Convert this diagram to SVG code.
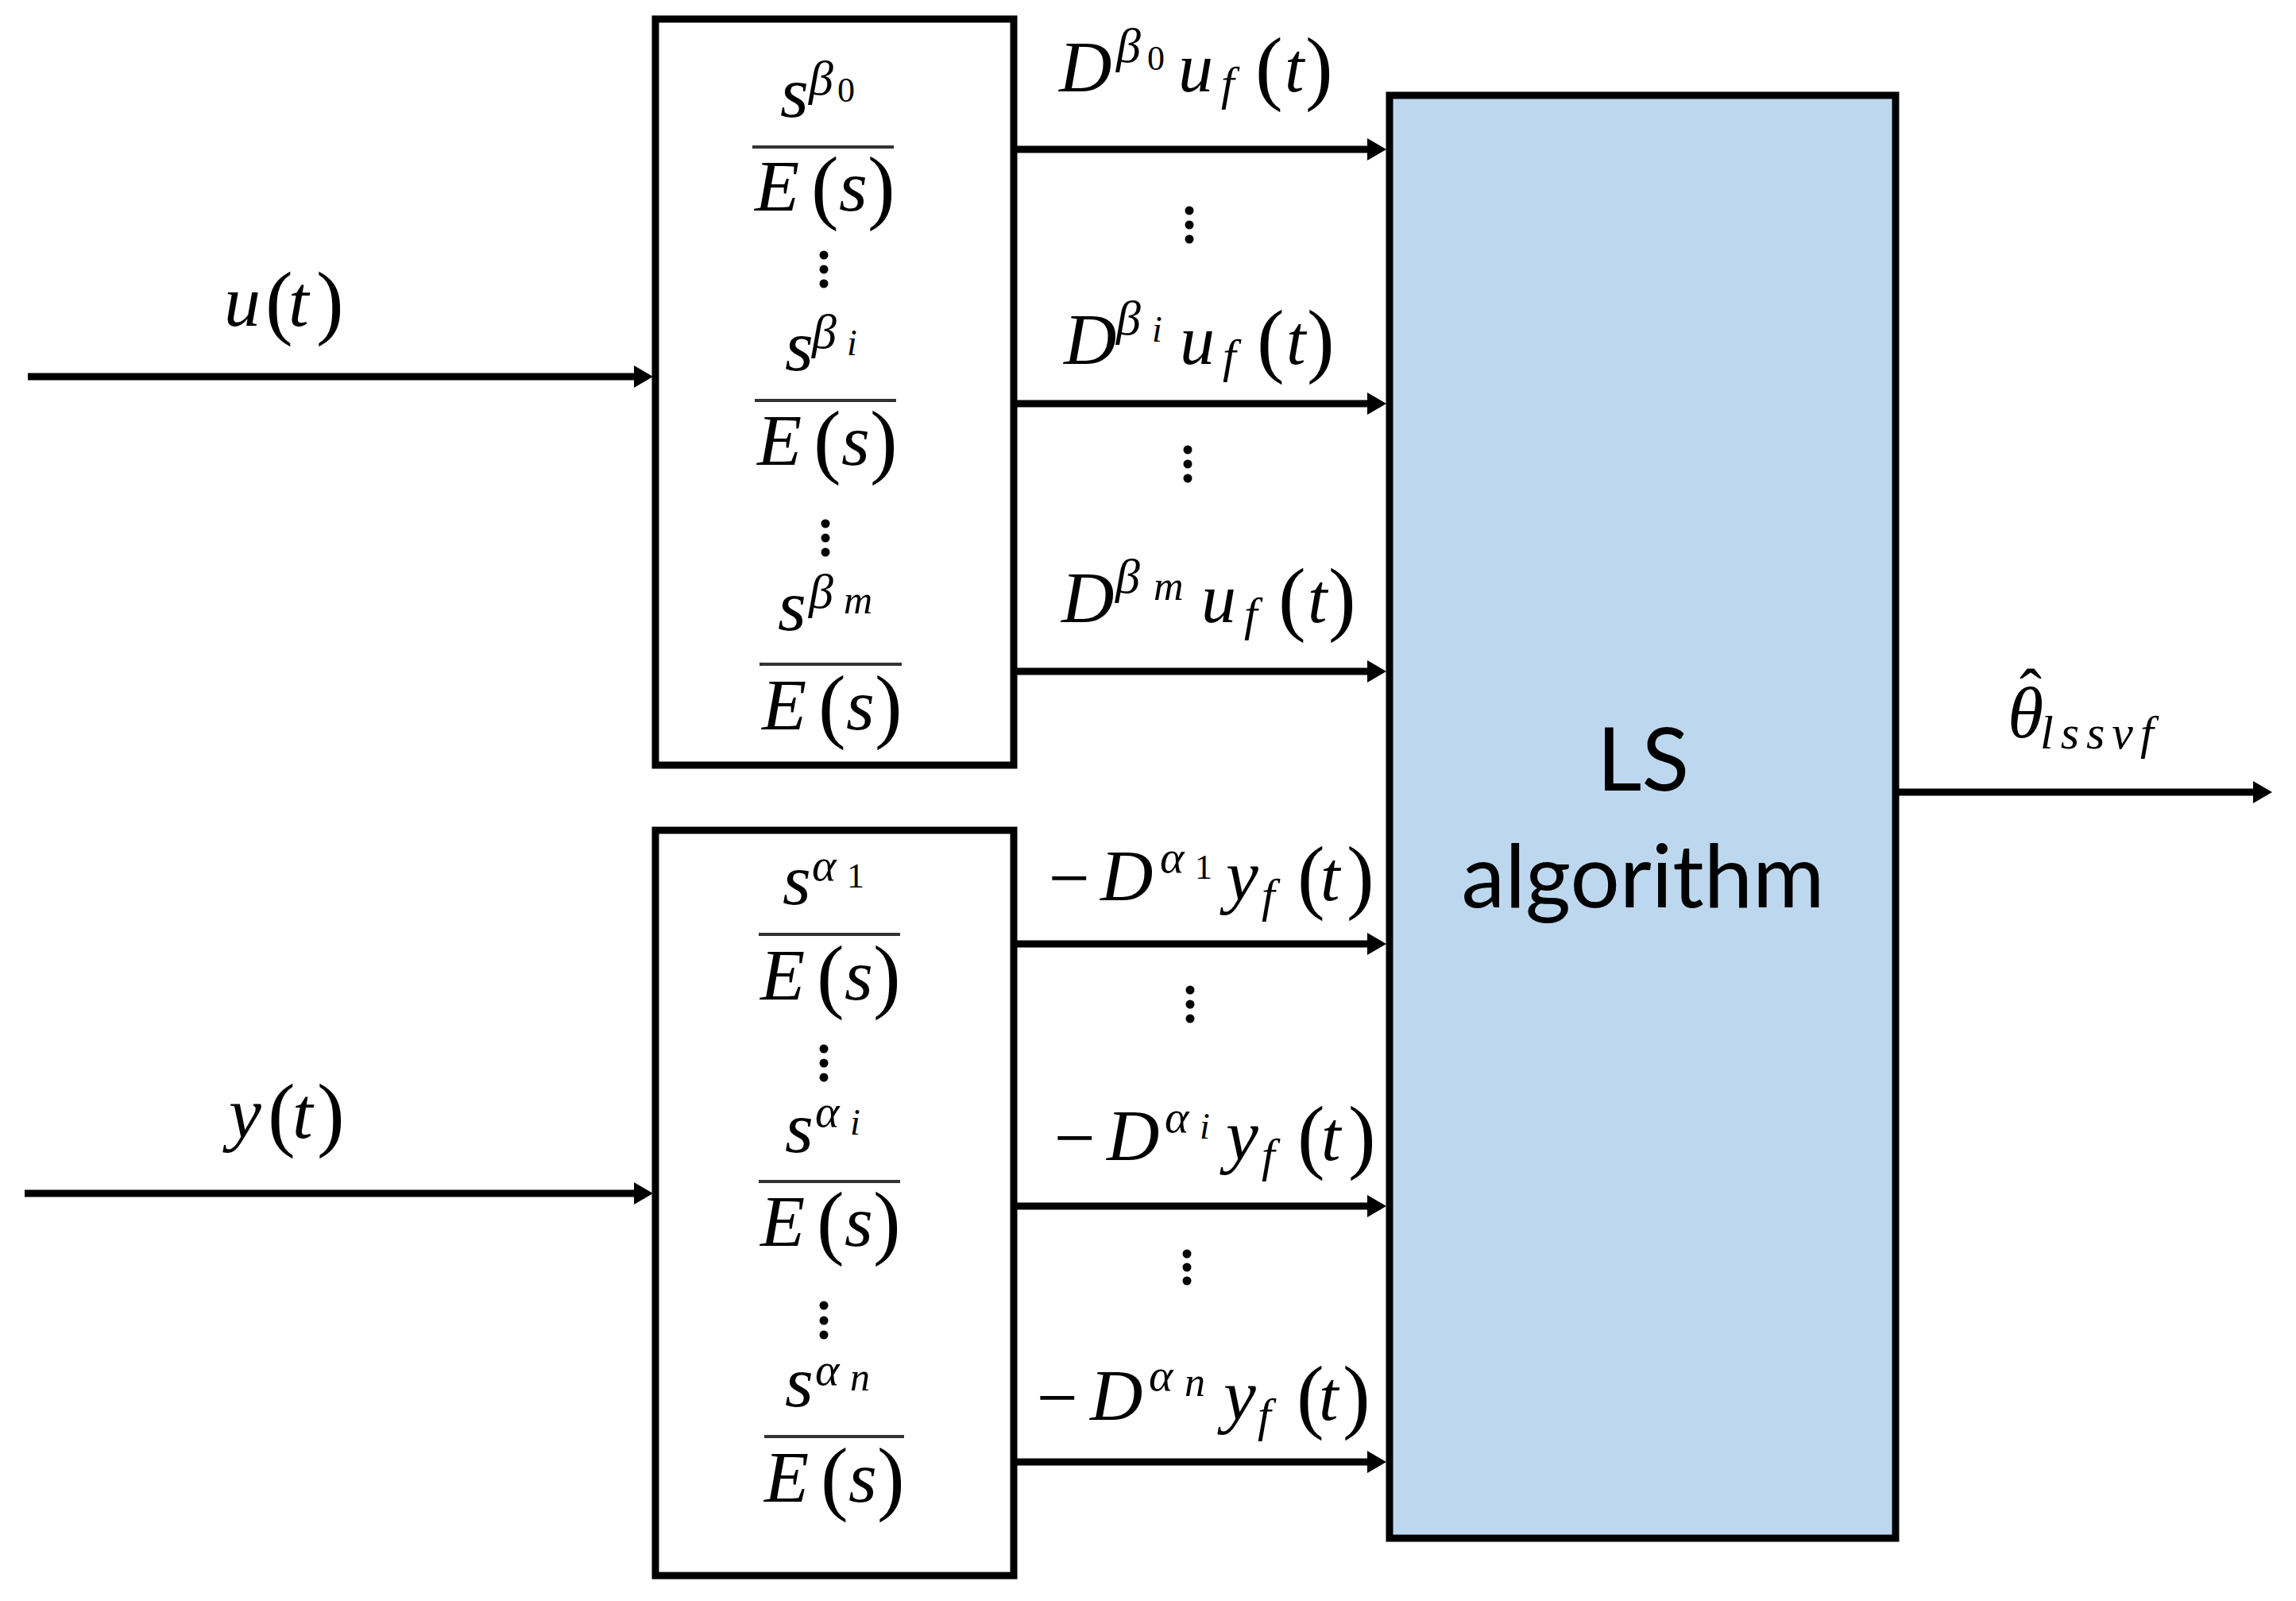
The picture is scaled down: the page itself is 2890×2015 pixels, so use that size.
<svg xmlns="http://www.w3.org/2000/svg" width="2890" height="2015" viewBox="0 0 2890 2015">
<style>
.m{font-family:"Liberation Serif","Times New Roman",serif;font-style:italic;fill:#000}
.up{font-style:normal}
.box{fill:#fff;stroke:#000;stroke-width:9}
.ls{fill:#BDD7EE;stroke:#000;stroke-width:9}
.bar{stroke:#333;stroke-width:4}
.cn{stroke:#000;stroke-width:9;fill:none;marker-end:url(#ah)}
.dot{fill:#000}
.lt{font-family:Lato,"Open Sans","Noto Sans",sans-serif;font-size:110px;fill:#000;text-anchor:middle}
</style>
<defs>
<marker id="ah" markerUnits="userSpaceOnUse" viewBox="0 0 24 28" markerWidth="24" markerHeight="28" refX="12" refY="14" orient="auto">
<path d="M0,0 L24,14 L0,28 z" fill="#000"/>
</marker>
</defs>
<rect width="2890" height="2015" fill="#fff"/>

<g id="filter-u">
<rect class="box" x="825" y="24" width="451" height="939"/>
<text class="m"><tspan x="982" y="147" font-size="92">s</tspan><tspan x="1018" y="119" font-size="62">β</tspan><tspan class="up" x="1054" y="128" font-size="44">0</tspan></text>
<line class="bar" x1="947" y1="185" x2="1125" y2="185"/>
<text class="m"><tspan x="950" y="265" font-size="92">E</tspan><tspan class="up" x="1021" y="269" font-size="104">(</tspan><tspan x="1056" y="265" font-size="92">s</tspan><tspan class="up" x="1092" y="269" font-size="104">)</tspan></text>
<circle class="dot" cx="1037" cy="321" r="5.5"/><circle class="dot" cx="1037" cy="339" r="5.5"/><circle class="dot" cx="1037" cy="357" r="5.5"/>
<text class="m"><tspan x="988" y="466" font-size="92">s</tspan><tspan x="1022" y="438" font-size="62">β</tspan><tspan x="1066" y="447" font-size="46">i</tspan></text>
<line class="bar" x1="950" y1="504" x2="1128" y2="504"/>
<text class="m"><tspan x="953" y="585" font-size="92">E</tspan><tspan class="up" x="1024" y="589" font-size="104">(</tspan><tspan x="1059" y="585" font-size="92">s</tspan><tspan class="up" x="1095" y="589" font-size="104">)</tspan></text>
<circle class="dot" cx="1039" cy="659" r="5.5"/><circle class="dot" cx="1039" cy="677" r="5.5"/><circle class="dot" cx="1039" cy="695" r="5.5"/>
<text class="m"><tspan x="979" y="793" font-size="92">s</tspan><tspan x="1018" y="765" font-size="62">β</tspan><tspan x="1062" y="772" font-size="50">m</tspan></text>
<line class="bar" x1="956" y1="836" x2="1135" y2="836"/>
<text class="m"><tspan x="959" y="918" font-size="92">E</tspan><tspan class="up" x="1030" y="922" font-size="104">(</tspan><tspan x="1065" y="918" font-size="92">s</tspan><tspan class="up" x="1101" y="922" font-size="104">)</tspan></text>
</g>

<g id="filter-y">
<rect class="box" x="825" y="1045" width="451" height="938"/>
<text class="m"><tspan x="985" y="1138" font-size="92">s</tspan><tspan x="1022" y="1108" font-size="58">α</tspan><tspan class="up" x="1066" y="1117" font-size="44">1</tspan></text>
<line class="bar" x1="955" y1="1176" x2="1133" y2="1176"/>
<text class="m"><tspan x="957" y="1258" font-size="92">E</tspan><tspan class="up" x="1028" y="1262" font-size="104">(</tspan><tspan x="1063" y="1258" font-size="92">s</tspan><tspan class="up" x="1099" y="1262" font-size="104">)</tspan></text>
<circle class="dot" cx="1037" cy="1320" r="5.5"/><circle class="dot" cx="1037" cy="1338" r="5.5"/><circle class="dot" cx="1037" cy="1356" r="5.5"/>
<text class="m"><tspan x="988" y="1450" font-size="92">s</tspan><tspan x="1026" y="1418" font-size="58">α</tspan><tspan x="1070" y="1428" font-size="46">i</tspan></text>
<line class="bar" x1="955" y1="1487" x2="1133" y2="1487"/>
<text class="m"><tspan x="957" y="1568" font-size="92">E</tspan><tspan class="up" x="1028" y="1572" font-size="104">(</tspan><tspan x="1063" y="1568" font-size="92">s</tspan><tspan class="up" x="1099" y="1572" font-size="104">)</tspan></text>
<circle class="dot" cx="1037" cy="1643" r="5.5"/><circle class="dot" cx="1037" cy="1662" r="5.5"/><circle class="dot" cx="1037" cy="1680" r="5.5"/>
<text class="m"><tspan x="988" y="1770" font-size="92">s</tspan><tspan x="1026" y="1743" font-size="58">α</tspan><tspan x="1070" y="1750" font-size="50">n</tspan></text>
<line class="bar" x1="962" y1="1808" x2="1138" y2="1808"/>
<text class="m"><tspan x="962" y="1890" font-size="92">E</tspan><tspan class="up" x="1033" y="1894" font-size="104">(</tspan><tspan x="1068" y="1890" font-size="92">s</tspan><tspan class="up" x="1104" y="1894" font-size="104">)</tspan></text>
</g>

<g id="ls-algorithm">
<rect class="ls" x="1749" y="120" width="637" height="1816"/>
<text class="lt" x="2068" y="995">LS</text>
<text class="lt" x="2068" y="1142">algorithm</text>
</g>

<g id="connectors">
<line class="cn" x1="35" y1="474" x2="810" y2="474"/>
<line class="cn" x1="31" y1="1502" x2="810" y2="1502"/>
<line class="cn" x1="1276" y1="188" x2="1733" y2="188"/>
<line class="cn" x1="1276" y1="508" x2="1733" y2="508"/>
<line class="cn" x1="1276" y1="845" x2="1733" y2="845"/>
<line class="cn" x1="1276" y1="1188" x2="1733" y2="1188"/>
<line class="cn" x1="1276" y1="1518" x2="1733" y2="1518"/>
<line class="cn" x1="1276" y1="1840" x2="1733" y2="1840"/>
<line class="cn" x1="2386" y1="997" x2="2848" y2="997"/>
</g>

<g id="labels">
<text class="m"><tspan x="282" y="410" font-size="92">u</tspan><tspan class="up" x="334" y="414" font-size="104">(</tspan><tspan x="363" y="410" font-size="92">t</tspan><tspan class="up" x="398" y="414" font-size="104">)</tspan></text>
<text class="m"><tspan x="288" y="1432" font-size="92">y</tspan><tspan class="up" x="337" y="1436" font-size="104">(</tspan><tspan x="368" y="1432" font-size="92">t</tspan><tspan class="up" x="399" y="1436" font-size="104">)</tspan></text>

<text class="m"><tspan x="1333" y="115" font-size="92">D</tspan><tspan x="1405" y="78" font-size="62">β</tspan><tspan class="up" x="1444" y="88" font-size="44">0</tspan><tspan x="1483" y="115" font-size="88">u</tspan><tspan x="1537" y="125" font-size="60">f</tspan><tspan class="up" x="1580" y="119" font-size="104">(</tspan><tspan x="1617" y="115" font-size="88">t</tspan><tspan class="up" x="1643" y="119" font-size="104">)</tspan></text>
<circle class="dot" cx="1497" cy="265" r="5.5"/><circle class="dot" cx="1497" cy="283" r="5.5"/><circle class="dot" cx="1497" cy="301" r="5.5"/>
<text class="m"><tspan x="1339" y="458" font-size="92">D</tspan><tspan x="1405" y="421" font-size="62">β</tspan><tspan x="1450" y="430" font-size="46">i</tspan><tspan x="1485" y="458" font-size="88">u</tspan><tspan x="1539" y="468" font-size="60">f</tspan><tspan class="up" x="1582" y="462" font-size="104">(</tspan><tspan x="1619" y="458" font-size="88">t</tspan><tspan class="up" x="1645" y="462" font-size="104">)</tspan></text>
<circle class="dot" cx="1495" cy="566" r="5.5"/><circle class="dot" cx="1495" cy="584" r="5.5"/><circle class="dot" cx="1495" cy="602" r="5.5"/>
<text class="m"><tspan x="1336" y="783" font-size="92">D</tspan><tspan x="1404" y="746" font-size="62">β</tspan><tspan x="1452" y="755" font-size="52">m</tspan><tspan x="1512" y="783" font-size="88">u</tspan><tspan x="1566" y="793" font-size="60">f</tspan><tspan class="up" x="1609" y="787" font-size="104">(</tspan><tspan x="1646" y="783" font-size="88">t</tspan><tspan class="up" x="1672" y="787" font-size="104">)</tspan></text>

<text class="m"><tspan class="up" x="1320" y="1136" font-size="92">−</tspan><tspan x="1385" y="1133" font-size="92">D</tspan><tspan x="1460" y="1098" font-size="58">α</tspan><tspan class="up" x="1504" y="1106" font-size="44">1</tspan><tspan x="1543" y="1133" font-size="92">y</tspan><tspan x="1588" y="1147" font-size="60">f</tspan><tspan class="up" x="1633" y="1137" font-size="104">(</tspan><tspan x="1662" y="1133" font-size="88">t</tspan><tspan class="up" x="1695" y="1137" font-size="104">)</tspan></text>
<circle class="dot" cx="1498" cy="1246" r="5.5"/><circle class="dot" cx="1498" cy="1264" r="5.5"/><circle class="dot" cx="1498" cy="1282" r="5.5"/>
<text class="m"><tspan class="up" x="1327" y="1463" font-size="92">−</tspan><tspan x="1393" y="1460" font-size="92">D</tspan><tspan x="1466" y="1425" font-size="58">α</tspan><tspan x="1510" y="1433" font-size="46">i</tspan><tspan x="1543" y="1460" font-size="92">y</tspan><tspan x="1588" y="1474" font-size="60">f</tspan><tspan class="up" x="1633" y="1464" font-size="104">(</tspan><tspan x="1663" y="1460" font-size="88">t</tspan><tspan class="up" x="1697" y="1464" font-size="104">)</tspan></text>
<circle class="dot" cx="1494" cy="1578" r="5.5"/><circle class="dot" cx="1494" cy="1595" r="5.5"/><circle class="dot" cx="1494" cy="1612" r="5.5"/>
<text class="m"><tspan class="up" x="1305" y="1790" font-size="92">−</tspan><tspan x="1372" y="1787" font-size="92">D</tspan><tspan x="1446" y="1750" font-size="58">α</tspan><tspan x="1491" y="1757" font-size="52">n</tspan><tspan x="1540" y="1787" font-size="92">y</tspan><tspan x="1583" y="1801" font-size="60">f</tspan><tspan class="up" x="1632" y="1791" font-size="104">(</tspan><tspan x="1660" y="1787" font-size="88">t</tspan><tspan class="up" x="1690" y="1791" font-size="104">)</tspan></text>

<text class="m"><tspan x="2527" y="928" font-size="92">θ</tspan><tspan class="up" x="2542" y="900" font-size="84">ˆ</tspan><tspan x="2568" y="942" font-size="60" letter-spacing="9">lssvf</tspan></text>
</g>
</svg>
